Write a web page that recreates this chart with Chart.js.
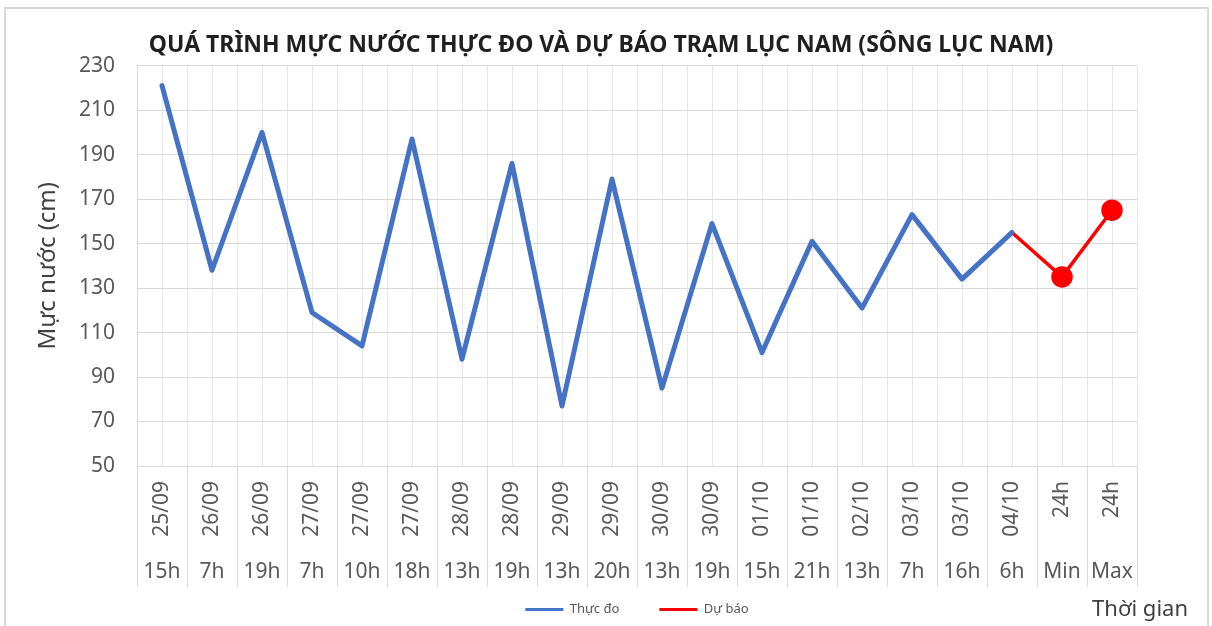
<!DOCTYPE html>
<html>
<head>
<meta charset="utf-8">
<script src="https://cdn.jsdelivr.net/npm/chart.js@4.4.1/dist/chart.umd.min.js"></script>
<style>
  html, body { margin: 0; padding: 0; background: #ffffff; }
  #wrap { position: relative; width: 1212px; height: 626px; }
  #frame { position: absolute; left: 4px; top: 7px; width: 1201px; height: 625px; border: 2px solid #d9d9d9; border-bottom: none; pointer-events: none; }
</style>
</head>
<body>
<div id="wrap">
  <canvas id="c" width="1212" height="626"></canvas>
  <div id="frame"></div>
</div>
<script>
// ---- data ----
const chartTitle = 'QUÁ TRÌNH MỰC NƯỚC THỰC ĐO VÀ DỰ BÁO TRẠM LỤC NAM (SÔNG LỤC NAM)';
const yAxisTitle = 'Mực nước (cm)';
const xAxisTitle = 'Thời gian';
const categoryDates = ['25/09','26/09','26/09','27/09','27/09','27/09','28/09','28/09','29/09','29/09','30/09','30/09','01/10','01/10','02/10','03/10','03/10','04/10','24h','24h'];
const categoryHours = ['15h','7h','19h','7h','10h','18h','13h','19h','13h','20h','13h','19h','15h','21h','13h','7h','16h','6h','Min','Max'];
const observedName = 'Thực đo';
const forecastName = 'Dự báo';
const observed = [221,138,200,119,104,197,98,186,77,179,85,159,101,151,121,163,134,155,null,null];
const forecast = [null,null,null,null,null,null,null,null,null,null,null,null,null,null,null,null,null,155,135,165];
const yMin = 50, yMax = 230, yStep = 20;

// ---- styles ----
const FONT = '"Noto Sans", "DejaVu Sans", sans-serif';
const tickColor = '#595959';
const gridH = '#d9d9d9';
const gridV = '#e6e6e6';

const timeLabelPlugin = {
  id: 'timeLabel',
  afterDraw(chart) {
    const ctx = chart.ctx;
    const lg = chart.legend;
    const y = lg.top + chart.options.plugins.legend.labels.padding + 6.5;
    ctx.save();
    ctx.font = '22px ' + FONT;
    ctx.fillStyle = '#404040';
    ctx.textAlign = 'right';
    ctx.textBaseline = 'middle';
    ctx.fillText(xAxisTitle, chart.width - 24, y);
    ctx.restore();
  }
};

new Chart(document.getElementById('c'), {
  type: 'line',
  data: {
    labels: categoryHours,
    datasets: [
      {
        label: observedName,
        data: observed,
        xAxisID: 'x', yAxisID: 'y',
        borderColor: '#4472C4',
        backgroundColor: '#4472C4',
        borderWidth: 5,
        borderJoinStyle: 'round',
        borderCapStyle: 'round',
        pointRadius: 0,
        tension: 0,
        fill: false
      },
      {
        label: forecastName,
        data: forecast,
        xAxisID: 'x', yAxisID: 'y',
        borderColor: '#FF0000',
        backgroundColor: '#FF0000',
        borderWidth: 3.5,
        borderJoinStyle: 'round',
        pointRadius: c => (observed[c.dataIndex] == null ? 9 : 0),
        pointBackgroundColor: '#FF0000',
        pointBorderColor: '#FF0000',
        tension: 0,
        fill: false
      }
    ]
  },
  options: {
    responsive: false,
    animation: false,
    devicePixelRatio: 1,
    layout: { padding: { top: 32, left: 0, right: 10, bottom: 0 } },
    plugins: {
      title: {
        display: true,
        text: chartTitle,
        color: '#1f1f1f',
        font: { family: FONT, size: 23, weight: 'bold' },
        padding: { top: 0, bottom: 6 }
      },
      legend: {
        display: true,
        position: 'bottom',
        fullSize: false,
        labels: {
          usePointStyle: true,
          pointStyleWidth: 38,
          padding: 40,
          color: '#595959',
          font: { family: FONT, size: 13 },
          generateLabels(chart) {
            const items = Chart.defaults.plugins.legend.labels.generateLabels(chart);
            items.forEach(it => { it.pointStyle = 'line'; it.lineWidth = 3; });
            return items;
          }
        }
      },
      tooltip: { enabled: false }
    },
    scales: {
      x: {
        type: 'category',
        labels: categoryDates,
        position: 'bottom',
        offset: true,
        grid: { display: true, offset: true, drawOnChartArea: true, drawTicks: true, tickLength: 89, color: gridV, tickColor: gridH },
        border: { display: true, color: gridH },
        ticks: { autoSkip: false, minRotation: 90, maxRotation: 90, padding: -74, color: tickColor, font: { family: FONT, size: 21 } },
        afterFit(s) { s.height = 89; }
      },
      x2: {
        type: 'category',
        labels: categoryHours,
        position: 'bottom',
        offset: true,
        grid: { display: true, offset: true, drawOnChartArea: false, drawTicks: true, tickLength: 32, tickColor: gridH },
        border: { display: false },
        ticks: { autoSkip: false, minRotation: 0, maxRotation: 0, mirror: true, padding: -30, color: tickColor, font: { family: FONT, size: 21 } },
        afterFit(s) { s.height = 8; }
      },
      xc: {
        type: 'category',
        labels: categoryHours,
        position: 'top',
        offset: true,
        grid: { display: true, offset: false, drawOnChartArea: true, drawTicks: false, color: gridV },
        border: { display: false },
        ticks: { display: false },
        afterFit(s) { s.height = 0; }
      },
      y: {
        type: 'linear',
        position: 'left',
        min: yMin,
        max: yMax,
        ticks: { stepSize: yStep, padding: 22, color: tickColor, font: { family: FONT, size: 21 } },
        grid: { color: gridH, drawTicks: false },
        border: { display: true, color: gridH },
        title: { display: true, text: yAxisTitle, color: '#404040', font: { family: FONT, size: 24 }, padding: { top: 34, bottom: 0 } },
        afterFit(s) { s.width = 137; }
      },
      yr: {
        type: 'linear',
        position: 'right',
        display: true,
        grid: { display: false },
        border: { display: false },
        ticks: { display: false },
        afterFit(s) { s.width = 65; }
      }
    }
  },
  plugins: [timeLabelPlugin]
});
</script>
</body>
</html>
